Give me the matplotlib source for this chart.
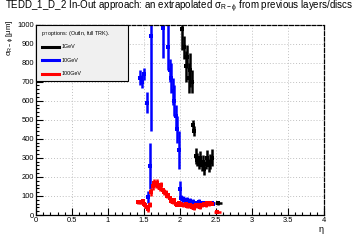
import matplotlib
matplotlib.use("Agg")
import matplotlib.pyplot as plt
from matplotlib.patches import Rectangle
from matplotlib.lines import Line2D
from matplotlib.ticker import MultipleLocator
from matplotlib.transforms import ScaledTranslation

plt.rcParams['font.family'] = ['Liberation Sans', 'DejaVu Sans']
plt.rcParams['mathtext.default'] = 'regular'

title = r"TEDD_1_D_2 In-Out approach: an extrapolated $\sigma_{R-\phi}$ from previous layers/discs"
ylabel = r"$\sigma_{R-\phi}$ [μm]"
xlabel = "η"
legend_header = r"$p_T$ options: (OutIn, full TRK)."
series_labels = ["1GeV", "10GeV", "100GeV"]
series_colors = ["black", "blue", "red"]

# 1 GeV
black_eta = [2.03, 2.06, 2.08, 2.10, 2.12, 2.14, 2.16, 2.18, 2.20,
             2.22, 2.24, 2.26, 2.28, 2.30, 2.32, 2.34, 2.36, 2.38, 2.40, 2.42, 2.44, 2.53]
black_val = [975, 880, 780, 830, 720, 760, 700, 470, 440,
             310, 290, 270, 300, 260, 280, 240, 270, 300, 260, 280, 300, 62]
black_err = [110, 60, 80, 60, 80, 90, 60, 30, 25,
             40, 35, 30, 35, 30, 35, 30, 30, 40, 35, 40, 45, 8]
black_xerr = [0.01] * 21 + [0.05]

# 10 GeV
blue_eta = [1.44, 1.47, 1.50, 1.54, 1.56, 1.58, 1.60, 1.77, 1.84, 1.86, 1.88, 1.90,
            1.92, 1.94, 1.96, 1.98, 2.00, 2.02, 2.04, 2.06, 2.08, 2.10, 2.12, 2.14,
            2.16, 2.18, 2.20, 2.22, 2.24, 2.26, 2.28, 2.30, 2.32, 2.34, 2.36, 2.38,
            2.40, 2.42, 2.44, 2.46]
blue_val = [720, 700, 740, 590, 95, 258, 940, 980, 880, 760, 720, 650,
            600, 520, 450, 340, 135, 90, 85, 80, 75, 80, 70, 75,
            65, 70, 60, 65, 60, 70, 65, 60, 62, 58, 65, 60,
            60, 62, 64, 60]
blue_err = [40, 35, 30, 55, 30, 120, 500, 155, 120, 60, 80, 70,
            80, 60, 70, 100, 45, 15, 15, 12, 12, 15, 12, 12,
            10, 12, 10, 10, 10, 12, 10, 10, 10, 10, 10, 10,
            10, 10, 10, 10]
blue_xerr = [0.01] * 40

# 100 GeV
red_eta = [1.42, 1.44, 1.46, 1.48, 1.50, 1.52, 1.54, 1.56, 1.58, 1.60, 1.62, 1.64,
           1.66, 1.68, 1.70, 1.72, 1.74, 1.76, 1.78, 1.80, 1.82, 1.84, 1.86, 1.88,
           1.90, 1.92, 1.94, 1.96, 1.98, 2.00, 2.02, 2.04, 2.06, 2.08, 2.10, 2.12,
           2.14, 2.16, 2.18, 2.20, 2.22, 2.24, 2.26, 2.28, 2.30, 2.32, 2.34, 2.36,
           2.38, 2.40, 2.42, 2.44, 2.52]
red_val = [70, 70, 68, 72, 60, 50, 40, 30, 55, 120, 150, 170,
           160, 170, 150, 140, 155, 130, 120, 115, 100, 105, 90, 75,
           70, 80, 60, 55, 65, 55, 60, 50, 55, 60, 48, 45,
           55, 40, 45, 38, 50, 45, 55, 40, 50, 55, 60, 50,
           62, 58, 65, 60, 15]
red_err = [10, 10, 10, 10, 10, 12, 12, 12, 15, 20, 20, 20,
           18, 18, 16, 16, 16, 14, 14, 14, 12, 12, 12, 12,
           10, 10, 10, 10, 10, 10, 10, 10, 10, 10, 10, 10,
           10, 10, 10, 10, 10, 10, 10, 10, 10, 10, 10, 10,
           10, 10, 10, 10, 5]
red_xerr = [0.01] * 52 + [0.05]

fig = plt.figure(figsize=(3.6, 2.4), dpi=100)
ax = fig.add_axes([36 / 360, 25 / 240, 288 / 360, 190.5 / 240])

for eta, val, err, xe, c in [(black_eta, black_val, black_err, black_xerr, series_colors[0]),
                             (blue_eta, blue_val, blue_err, blue_xerr, series_colors[1]),
                             (red_eta, red_val, red_err, red_xerr, series_colors[2])]:
    ax.errorbar(eta, val, yerr=err, xerr=xe, fmt='s', color=c, ms=3.2,
                elinewidth=1.8, capsize=2.0, capthick=1.8, mew=0)

ax.set_xlim(0, 4)
ax.set_ylim(0, 1000)
ax.xaxis.set_major_locator(MultipleLocator(0.5))
ax.xaxis.set_minor_locator(MultipleLocator(0.1))
ax.yaxis.set_major_locator(MultipleLocator(100))
ax.yaxis.set_minor_locator(MultipleLocator(20))
ax.xaxis.set_major_formatter(matplotlib.ticker.FuncFormatter(lambda v, p: f"{v:g}"))
ax.tick_params(which='both', direction='in', top=False, right=False,
               labelsize=5.4, pad=1.5, width=0.8)
ax.tick_params(which='major', length=5)
ax.tick_params(which='minor', length=2.5)
ax.grid(True, which='major', color='#c0c0c0', linestyle=(0, (1, 2)), linewidth=0.7)
ax.set_axisbelow(True)
for s in ['top', 'right']:
    ax.spines[s].set_linestyle((0, (3, 1.5)))
    ax.spines[s].set_linewidth(0.9)
for s in ['left', 'bottom']:
    ax.spines[s].set_linewidth(0.9)

fig.canvas.draw()
ylabs = ax.get_yticklabels()
ylabs[0].set_transform(ylabs[0].get_transform() + ScaledTranslation(-2.5 / 100, 1.5 / 100, fig.dpi_scale_trans))

fig.text(5 / 360, 1 - 7 / 240, title, fontsize=7.0, ha='left', va='center')
fig.text(4 / 360, 1 - 20 / 240, ylabel, fontsize=5.6, rotation=90, ha='left', va='top')
fig.text(324 / 360, 1 - 229 / 240, xlabel, fontsize=6.5, ha='right', va='center')

# legend box
leg_t = ax.transAxes
ax.add_patch(Rectangle((-0.001, 0.705), 0.32, 0.29, transform=leg_t,
                       facecolor='#f0f0f0', edgecolor='black', linewidth=0.8,
                       zorder=5, clip_on=False))
fig.text(41 / 360, 1 - 33 / 240, legend_header, fontsize=3.9, ha='left', va='center', zorder=6)
for i, (lab, c) in enumerate(zip(series_labels, series_colors)):
    ypix = 47 + 13.3 * i
    fig.add_artist(Line2D([42 / 360, 59 / 360], [1 - ypix / 240, 1 - ypix / 240],
                          color=c, linewidth=2.2, zorder=6))
    fig.text(62 / 360, 1 - ypix / 240, lab, fontsize=3.9, ha='left', va='center', zorder=6)

fig.savefig("out.png", dpi=100)
